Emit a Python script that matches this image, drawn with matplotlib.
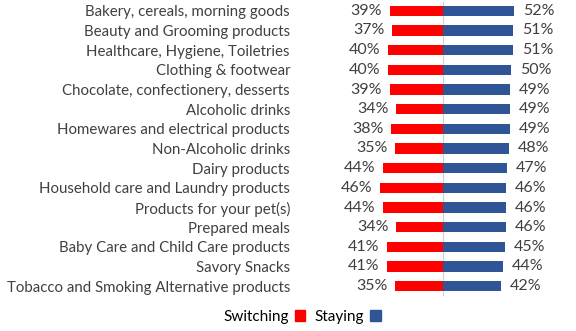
import matplotlib.pyplot as plt
from matplotlib.patches import Patch

plt.rcParams['font.family'] = ['Lato', 'DejaVu Sans']

categories = ['Bakery, cereals, morning goods', 'Beauty and Grooming products',
              'Healthcare, Hygiene, Toiletries', 'Clothing & footwear',
              'Chocolate, confectionery, desserts', 'Alcoholic drinks',
              'Homewares and electrical products', 'Non-Alcoholic drinks',
              'Dairy products', 'Household care and Laundry products',
              'Products for your pet(s)', 'Prepared meals',
              'Baby Care and Child Care products', 'Savory Snacks',
              'Tobacco and Smoking Alternative products']
switching = [39, 37, 40, 40, 39, 34, 38, 35, 44, 46, 44, 34, 41, 41, 35]
staying = [52, 51, 51, 50, 49, 49, 49, 48, 47, 46, 46, 46, 45, 44, 42]

red = '#FF0000'
blue = '#2F5597'
txt = '#404040'

fig = plt.figure(figsize=(5.76, 3.31), dpi=100)
# axes from px 290 to 576, centre (0) at px 443
ax = fig.add_axes([290 / 576, 1 - 296 / 331, 286 / 576, 295 / 331])

y = list(range(len(categories)))
ax.barh(y, [-s for s in switching], height=0.52, color=red)
ax.barh(y, staying, height=0.52, color=blue)
ax.vlines(0, -0.5, len(categories) - 0.5, color='#D0D0D0', lw=0.8, zorder=0)

for i in y:
    ax.text(-switching[i] - 5.5, i, f'{switching[i]}%', ha='right', va='center',
            fontsize=11.5, color=txt)
    ax.text(staying[i] + 6.5, i, f'{staying[i]}%', ha='left', va='center',
            fontsize=11.5, color=txt)

ax.set_xlim(-111.7, 97.1)
ax.set_ylim(len(categories) - 0.5, -0.5)
ax.set_yticks(y)
ax.set_yticklabels(categories, fontsize=10.8, color=txt)
ax.tick_params(axis='y', length=0, pad=0)
ax.set_xticks([])
for s in ax.spines.values():
    s.set_visible(False)

handles = [Patch(color=red), Patch(color=blue)]
fig.legend(handles, ['Switching', 'Staying'], loc='center', bbox_to_anchor=(302 / 576, 1 - 317 / 331),
           ncol=2, frameon=False, markerfirst=False, fontsize=11, handlelength=0.7,
           handleheight=0.7, handletextpad=0.4, columnspacing=0.6)

fig.savefig('out.png', dpi=100)
